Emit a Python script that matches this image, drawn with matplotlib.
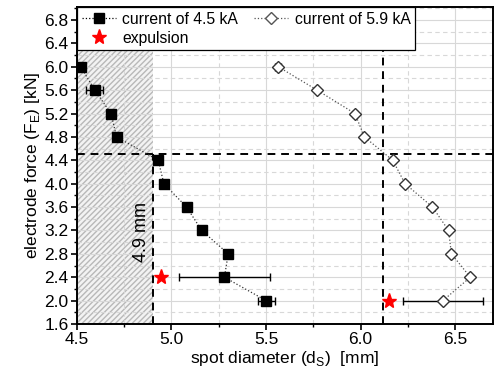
import matplotlib
matplotlib.use("Agg")
import matplotlib.pyplot as plt
from matplotlib.ticker import MultipleLocator, FormatStrFormatter

plt.rcParams["font.family"] = ["Liberation Sans", "DejaVu Sans"]

# 4.5 kA series
force_45 = [6.0, 5.6, 5.2, 4.8, 4.4, 4.0, 3.6, 3.2, 2.8, 2.4, 2.0]
diam_45 = [4.52, 4.595, 4.68, 4.71, 4.93, 4.96, 5.08, 5.16, 5.30, 5.28, 5.50]
err_45 = [0.0, 0.045, 0.0, 0.0, 0.0, 0.01, 0.0, 0.0, 0.0, 0.24, 0.045]

# 5.9 kA series
force_59 = [6.0, 5.6, 5.2, 4.8, 4.4, 4.0, 3.6, 3.2, 2.8, 2.4, 2.0]
diam_59 = [5.565, 5.77, 5.97, 6.02, 6.17, 6.235, 6.38, 6.465, 6.48, 6.58, 6.435]
err_59 = [0.015, 0.0, 0.01, 0.0, 0.01, 0.0, 0.0, 0.01, 0.01, 0.0, 0.21]

# expulsion points
expul_d = [4.945, 6.152]
expul_f = [2.4, 2.0]

lim_d_45 = 4.9
lim_d_59 = 6.12
lim_f = 4.5

fig = plt.figure(figsize=(4.96, 3.75), dpi=100)
ax = fig.add_axes([0.155, 0.136, 0.839, 0.845])

ax.set_xlim(4.5, 6.7)
ax.set_ylim(1.6, 7.02)
ax.xaxis.set_major_locator(MultipleLocator(0.5))
ax.xaxis.set_minor_locator(MultipleLocator(0.25))
ax.yaxis.set_major_locator(MultipleLocator(0.4))
ax.yaxis.set_minor_locator(MultipleLocator(0.2))
ax.xaxis.set_major_formatter(FormatStrFormatter("%.1f"))
ax.yaxis.set_major_formatter(FormatStrFormatter("%.1f"))
ax.grid(True, which="major", color="#d8d8d8", lw=0.8, ls="-")
ax.grid(True, which="minor", color="#d8d8d8", lw=0.8, ls=(0, (4, 3)))
ax.set_axisbelow(True)
ax.tick_params(which="major", direction="out", length=4, width=1.2, labelsize=12.5, pad=2)
ax.tick_params(which="minor", direction="out", length=2.5, width=1.0)
for s in ax.spines.values():
    s.set_linewidth(1.4)

# hatched region below the 4.9 mm limit
ax.axvspan(4.5, lim_d_45, facecolor="#f3f3f3", edgecolor="#b8b8b8",
           hatch="//////", lw=0, zorder=0.3)

# limit lines
ax.axhline(lim_f, color="black", ls=(0, (4, 3)), lw=1.4, zorder=2)
ax.plot([lim_d_45, lim_d_45], [1.6, lim_f], color="black", ls=(0, (4, 3)), lw=1.4, zorder=2)
ax.axvline(lim_d_59, color="black", ls=(0, (4, 3)), lw=1.4, zorder=2)
ax.text(4.84, 3.17, "4.9 mm", rotation=90, ha="center", va="center", fontsize=13)

h1 = ax.errorbar(diam_45, force_45, xerr=err_45, fmt="s", ms=7,
                 mfc="black", mec="black", ecolor="black", elinewidth=1, capsize=3,
                 ls=":", lw=0.9, zorder=4)
h2 = ax.errorbar(diam_59, force_59, xerr=err_59, fmt="D", ms=6.5,
                 mfc="white", mec="#333333", ecolor="black", elinewidth=1, capsize=3,
                 ls=":", lw=0.9, zorder=4)
h1[0].set_color("#333333")
h2[0].set_color("#555555")
h3, = ax.plot(expul_d, expul_f, "*", color="red", ms=11, ls="none", zorder=5)

ln1, = ax.plot([], [], "s:", color="black", ms=7, lw=0.9)
ln2, = ax.plot([], [], "D:", color="#555555", mfc="white", mec="#555555", ms=6.5, lw=0.9)
leg = ax.legend([ln1, h3, ln2], ["current of 4.5 kA", "expulsion", "current of 5.9 kA"],
                ncol=2, loc="upper left", bbox_to_anchor=(0, 1.0), fontsize=11.3,
                frameon=True, fancybox=False, edgecolor="black", framealpha=1,
                borderaxespad=0, handlelength=2.2, columnspacing=1.0,
                handletextpad=0.4, borderpad=0.3, labelspacing=0.25)
leg.get_frame().set_linewidth(0.9)
leg.set_zorder(10)

ax.set_xlabel("spot diameter (d$_\\mathregular{S}$)  [mm]", fontsize=12.5, labelpad=1)
ax.set_ylabel("electrode force (F$_\\mathregular{E}$) [kN]", fontsize=12.5, labelpad=2)

fig.savefig("out.png", dpi=100)
